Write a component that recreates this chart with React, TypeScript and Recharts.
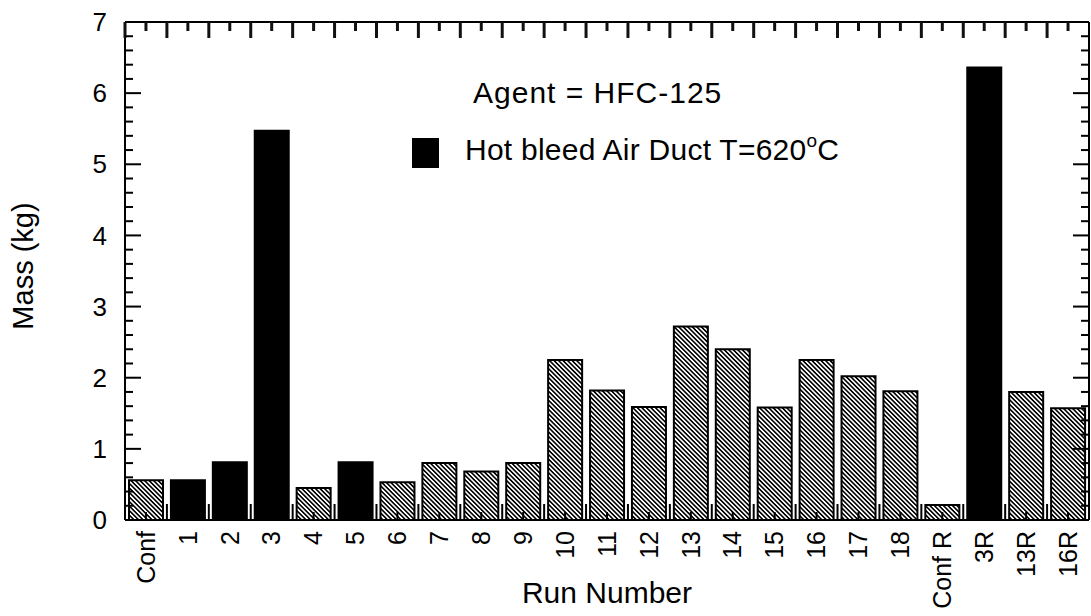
import React from 'react';
import { BarChart, Bar, XAxis, YAxis, Cell, Legend } from 'recharts';

const runs = ['Conf', '1', '2', '3', '4', '5', '6', '7', '8', '9', '10', '11', '12', '13', '14', '15', '16', '17', '18', 'Conf R', '3R', '13R', '16R'];
const mass = [0.56, 0.56, 0.81, 5.47, 0.45, 0.81, 0.53, 0.8, 0.68, 0.8, 2.25, 1.82, 1.59, 2.72, 2.4, 1.58, 2.25, 2.02, 1.81, 0.21, 6.36, 1.8, 1.57];
const hotDuct = [false, true, true, true, false, true, false, false, false, false, false, false, false, false, false, false, false, false, false, false, true, false, false];
const yTicks = [0, 0.2, 0.4, 0.6, 0.8, 1, 1.2, 1.4, 1.6, 1.8, 2, 2.2, 2.4, 2.6, 2.8, 3, 3.2, 3.4, 3.6, 3.8, 4, 4.2, 4.4, 4.6, 4.8, 5, 5.2, 5.4, 5.6, 5.8, 6, 6.2, 6.4, 6.6, 6.8, 7];
const agentText = 'Agent = HFC-125';
const legendText = 'Hot bleed Air Duct T=620';
const xTitle = 'Run Number';
const yTitle = 'Mass (kg)';

const data = runs.map((run, i) => ({ run, mass: mass[i], hot: hotDuct[i] }));

const W = 1091;
const H = 616;
const LEFT = 125;
const RIGHT_M = 1;
const TOP = 21;
const BOTTOM_H = 96;
const PLOT_W = W - LEFT - RIGHT_M - 1;
const PLOT_H = H - TOP - 1 - BOTTOM_H;
const STEP = PLOT_W / runs.length;
const FONT = '"Liberation Sans", Arial, Helvetica, sans-serif';
const TW = 2;

const isMajor = (v: number) => Math.abs(v - Math.round(v)) < 1e-6;

const BottomTick = (props: any) => {
  const { x, y, payload } = props;
  const yt = y - PLOT_H;
  return (
    <g>
      <line x1={x} x2={x} y1={y} y2={y - 8} stroke="#000" strokeWidth={TW} />
      <line x1={x - STEP / 2} x2={x - STEP / 2} y1={y} y2={y - 16} stroke="#000" strokeWidth={TW} />
      <line x1={x} x2={x} y1={yt} y2={yt + 9} stroke="#111" strokeWidth={3} />
      <line x1={x - STEP / 2} x2={x - STEP / 2} y1={yt} y2={yt + 16} stroke="#111" strokeWidth={3} />
      <text
        x={x}
        y={y + 11}
        transform={`rotate(-90, ${x}, ${y + 11})`}
        textAnchor="end"
        dy="0.35em"
        fontSize={25}
        fontFamily={FONT}
        fill="#000"
      >
        {payload.value}
      </text>
    </g>
  );
};

const LeftTick = (props: any) => {
  const { x, y, payload } = props;
  const major = isMajor(payload.value);
  const len = major ? 16 : 8;
  const xr = x + PLOT_W;
  return (
    <g>
      <line x1={x} x2={x + len} y1={y} y2={y} stroke="#000" strokeWidth={TW} />
      <line x1={xr} x2={xr - len} y1={y} y2={y} stroke="#000" strokeWidth={TW} />
      {major && (
        <text x={x - 18} y={y} dy="0.35em" textAnchor="end" fontSize={26} fontFamily={FONT} fill="#000">
          {Math.round(payload.value)}
        </text>
      )}
    </g>
  );
};

const LegendContent = () => (
  <svg width={W} height={H} style={{ display: 'block', pointerEvents: 'none' }}>
    <text x={473} y={103} fontSize={30} letterSpacing={1} fontFamily={FONT} fill="#000">{agentText}</text>
    <rect x={412} y={138} width={27} height={30} fill="#000" />
    <text x={465} y={160} fontSize={30} letterSpacing={0.25} fontFamily={FONT} fill="#000">
      {legendText}
      <tspan fontSize={19} dy={-13}>o</tspan>
      <tspan dy={13}>C</tspan>
    </text>
    <text x={LEFT + PLOT_W / 2} y={603} textAnchor="middle" fontSize={30} fontFamily={FONT} fill="#000">
      {xTitle}
    </text>
    <text x={33} y={266} transform="rotate(-90, 33, 266)" textAnchor="middle" fontSize={29} fontFamily={FONT} fill="#000">
      {yTitle}
    </text>
  </svg>
);

export default function App() {
  return (
    <div style={{ position: 'absolute', left: 0, top: 0, width: W, height: H, background: '#fff' }}>
      <svg width={0} height={0} style={{ position: 'absolute' }}>
        <defs>
          <pattern id="hatch" patternUnits="userSpaceOnUse" width={3.2} height={3.2} patternTransform="rotate(45)">
            <rect x={0} y={0} width={3.2} height={3.2} fill="#fff" />
            <rect x={0} y={0} width={3.2} height={1.6} fill="#000" />
          </pattern>
        </defs>
      </svg>
      <BarChart
        width={W}
        height={H}
        data={data}
        margin={{ top: TOP, right: RIGHT_M, left: 0, bottom: 0 }}
        barSize={34}
      >
        <XAxis
          dataKey="run"
          height={BOTTOM_H}
          interval={0}
          tickSize={0}
          tickMargin={0}
          tickLine={false}
          tick={<BottomTick />}
          axisLine={{ stroke: '#000', strokeWidth: 2 }}
        />
        <XAxis
          xAxisId="top"
          dataKey="run"
          orientation="top"
          height={1}
          tick={false}
          tickLine={false}
          axisLine={{ stroke: '#000', strokeWidth: 2 }}
        />
        <YAxis
          width={LEFT}
          domain={[0, 7]}
          ticks={yTicks}
          interval={0}
          tickSize={0}
          tickMargin={0}
          tickLine={false}
          tick={<LeftTick />}
          axisLine={{ stroke: '#000', strokeWidth: 2 }}
        />
        <YAxis
          yAxisId="right"
          orientation="right"
          width={1}
          domain={[0, 7]}
          tick={false}
          tickLine={false}
          axisLine={{ stroke: '#000', strokeWidth: 2 }}
        />
        <Legend
          layout="horizontal"
          verticalAlign="middle"
          align="center"
          content={<LegendContent />}
          wrapperStyle={{ position: 'absolute', left: 0, top: 0, width: W, height: H, pointerEvents: 'none' }}
        />
        <Bar dataKey="mass" name="Hot bleed Air Duct T=620°C" isAnimationActive={false} stroke="#000" strokeWidth={2}>
          {data.map((d, i) => (
            <Cell key={i} fill={d.hot ? '#000' : 'url(#hatch)'} />
          ))}
        </Bar>
      </BarChart>
    </div>
  );
}
